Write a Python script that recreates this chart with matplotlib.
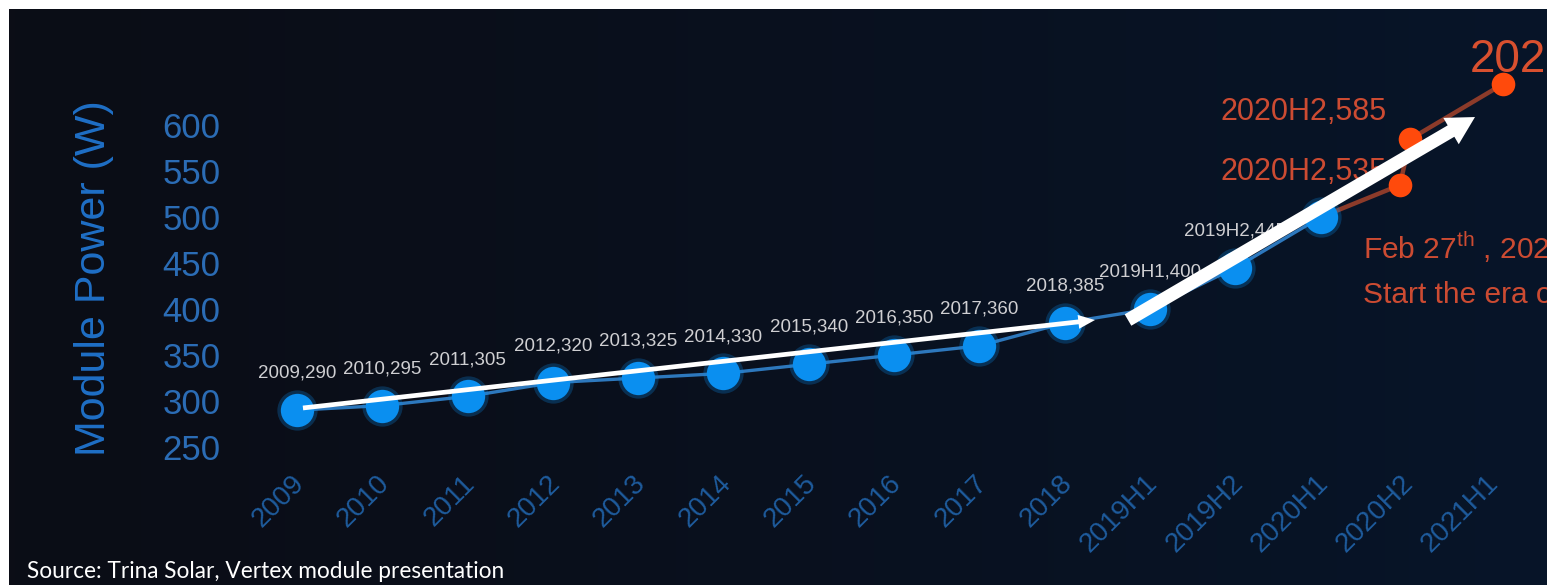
import matplotlib
matplotlib.use("Agg")
import matplotlib.pyplot as plt
import numpy as np
from matplotlib.patches import FancyArrowPatch, ArrowStyle
from matplotlib.transforms import ScaledTranslation

# ---- data ----
categories = ["2009", "2010", "2011", "2012", "2013", "2014", "2015", "2016",
              "2017", "2018", "2019H1", "2019H2", "2020H1", "2020H2", "2021H1"]
module_power = [290, 295, 305, 320, 325, 330, 340, 350, 360, 385, 400, 445, 500]
vertex_cats = ["2020H1", "2020H2", "2020H2", "2021H1"]
vertex_power = [500, 535, 585, 645]
y_ticks = [250, 300, 350, 400, 450, 500, 550, 600]

# small horizontal nudges so the two 2020H2 points do not overlap
vertex_shift = [0.0, -0.07, 0.05, 0.14]

plt.rcParams["font.family"] = ["Liberation Sans", "DejaVu Sans"]
plt.rcParams["mathtext.fontset"] = "custom"
plt.rcParams["mathtext.rm"] = "Liberation Sans"

W, H = 1547, 585
fig = plt.figure(figsize=(W / 100, H / 100), dpi=100, facecolor="white")

# dark slide background with a slight left-to-right gradient
bg = fig.add_axes([9 / W, 0, 1 - 9 / W, (H - 9) / H])
t = np.linspace(0, 1, 256)
left = np.array([11, 13, 22]) / 255
right = np.array([7, 21, 41]) / 255
grad = left[None, :] * (1 - t[:, None] ** 1.2) + right[None, :] * (t[:, None] ** 1.2)
bg.imshow(grad[None, :, :], aspect="auto", extent=[0, 1, 0, 1])
bg.axis("off")

# main chart axes
L_px, R_px, T_px, B_px = 240, 1547, 20, 462
ax = fig.add_axes([L_px / W, (H - B_px) / H, (R_px - L_px) / W, (B_px - T_px) / H])
ax.patch.set_alpha(0)
for s in ax.spines.values():
    s.set_visible(False)
ax.set_xlim(-0.668, 14.654)
ax.set_ylim(233.6, 714.6)

xi = np.arange(len(module_power))
idx = {c: i for i, c in enumerate(categories)}
vx = np.array([idx[c] for c in vertex_cats]) + np.array(vertex_shift)

# orange Vertex line (starts from the last blue point)
ax.plot(vx, vertex_power, color="#8c3b2a", lw=3.2, zorder=2)
ax.plot(vx[1:], vertex_power[1:], "o", ms=17, color="#ff4a0c", mec="none", zorder=3)

# blue history line and points
ax.plot(xi, module_power, color="#2d78bd", lw=2.4, zorder=2)
ax.plot(xi, module_power, "o", ms=29, color="#0a8ff0", alpha=0.25, mec="none", zorder=3)
ax.plot(xi, module_power, "o", ms=24, color="#0a8ff0", mec="none", zorder=3)

# value labels for the history series
for i in range(len(module_power) - 1):
    ax.annotate(f"{categories[i]},{module_power[i]}", (xi[i], module_power[i]),
                xytext=(0, 26.5), textcoords="offset points", ha="center", va="center",
                fontsize=13.5, color="#cfcfd2", zorder=4)

# labels for the Vertex points
orange_txt = "#cc4b32"
ax.annotate(f"{vertex_cats[1]},{vertex_power[1]}", (vx[1], vertex_power[1]),
            xytext=(-9.4, 9.4), textcoords="offset points", ha="right", va="center",
            fontsize=22, color=orange_txt, zorder=4)
ax.annotate(f"{vertex_cats[2]},{vertex_power[2]}", (vx[2], vertex_power[2]),
            xytext=(-16.6, 19.4), textcoords="offset points", ha="right", va="center",
            fontsize=22, color=orange_txt, zorder=4)
ax.annotate(f"{vertex_cats[3]},{vertex_power[3]}", (vx[3], vertex_power[3]),
            xytext=(-23.8, 17.5), textcoords="offset points", ha="left", va="center",
            fontsize=33, color="#d9502f", zorder=4, annotation_clip=False)

# axes ticks and labels
ax.set_yticks(y_ticks)
ax.set_yticklabels([str(v) for v in y_ticks])
ax.tick_params(axis="y", length=0, pad=14, labelsize=25, labelcolor="#2b6cb5")
ax.set_xticks(np.arange(len(categories)))
ax.set_xticklabels(categories, rotation=45, ha="right", rotation_mode="anchor")
ax.tick_params(axis="x", length=0, pad=6, labelsize=20, labelcolor="#1e5b9c")
shift = ScaledTranslation(-4 / 72, 0, fig.dpi_scale_trans)
for lbl in ax.get_xticklabels():
    lbl.set_transform(lbl.get_transform() + shift)
ax.set_ylabel("Module Power (W)", fontsize=31, color="#1f6fc6")
ax.yaxis.label.set_va("center")
ax.yaxis.set_label_coords((94 - L_px) / (R_px - L_px), (B_px - 278) / (B_px - T_px))

# trend arrows
thin = FancyArrowPatch((0.07, 292.4), (9.355, 388.1),
                       arrowstyle=ArrowStyle.Simple(head_length=12, head_width=10, tail_width=3.4),
                       mutation_scale=1, color="white", lw=0, shrinkA=0, shrinkB=0, zorder=6)
ax.add_patch(thin)
thick = FancyArrowPatch((9.742, 388.1), (13.81, 609.0),
                        arrowstyle=ArrowStyle.Simple(head_length=20, head_width=22, tail_width=9.5),
                        mutation_scale=1, color="white", lw=0, shrinkA=0, shrinkB=0, zorder=6)
ax.add_patch(thick)

# launch note
fig.text(1363 / W, (H - 247) / H, r"Feb 27$^{\mathrm{th}}$ , 2020", fontsize=21.5,
         color=orange_txt, ha="left", va="center")
fig.text(1363 / W, (H - 295) / H, "Start the era of 600W+", fontsize=21.5,
         color=orange_txt, ha="left", va="center")

fig.text(27 / W, (H - 578) / H, "Source: Trina Solar, Vertex module presentation",
         fontsize=16.3, color="white", ha="left", va="baseline", family=["Lato", "DejaVu Sans"])

fig.savefig("out.png", dpi=100, facecolor=fig.get_facecolor())
